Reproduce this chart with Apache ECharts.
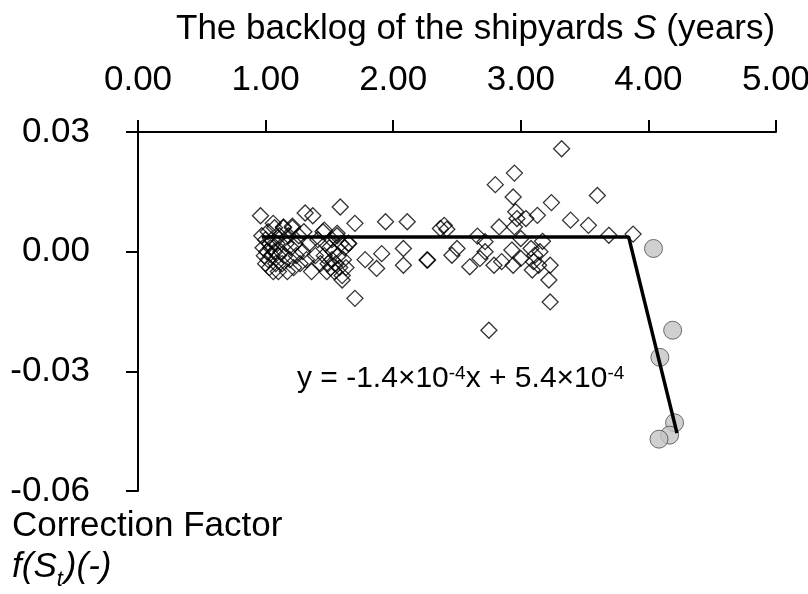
<!DOCTYPE html>
<html>
<head>
<meta charset="utf-8">
<script src="https://cdn.jsdelivr.net/npm/echarts@6/dist/echarts.min.js"></script>
<style>
  html, body { margin: 0; padding: 0; background: #fff; }
  #chart { width: 808px; height: 594px; }
</style>
</head>
<body>
<div id="chart"></div>
<script>
// Axis ticks
const xTicks = [0, 1, 2, 3, 4, 5];
const yTicks = [-0.06, -0.03, 0.0, 0.03];

// Observed correction factor vs. backlog (normal regime)
const normalPoints = [
  [0.96, 0.009], [0.97, 0.004], [0.98, 0.001], [0.99, -0.001], [1.00, 0.003], [1.00, -0.003],
  [1.01, 0.000], [1.02, 0.005], [1.02, -0.002], [1.03, 0.002], [1.03, -0.004], [1.04, 0.001],
  [1.05, -0.001], [1.05, 0.003], [1.06, -0.005], [1.07, 0.000], [1.07, 0.006], [1.08, -0.003],
  [1.09, 0.002], [1.10, -0.001], [1.10, -0.005], [1.11, 0.004], [1.12, 0.000], [1.13, -0.003],
  [1.14, 0.006], [1.15, -0.001], [1.16, 0.002], [1.17, -0.005], [1.18, 0.004], [1.19, -0.002],
  [1.20, 0.001], [1.21, 0.006], [1.22, -0.004], [1.23, 0.002], [1.24, -0.001], [1.26, 0.004],
  [1.27, -0.003], [1.29, 0.000], [1.30, 0.005], [1.32, -0.002], [1.34, 0.002], [1.36, -0.005],
  [1.37, 0.009], [1.39, -0.001], [1.41, 0.003],
  [1.43, -0.003], [1.45, 0.005], [1.46, -0.001], [1.47, 0.002], [1.48, -0.005], [1.49, -0.003],
  [1.50, 0.001], [1.51, -0.004], [1.52, 0.003], [1.52, -0.002], [1.53, 0.000], [1.54, -0.005],
  [1.55, -0.003], [1.56, 0.004], [1.57, -0.001], [1.58, -0.004], [1.59, 0.002], [1.60, -0.006],
  [1.61, -0.002], [1.62, 0.001], [1.63, -0.004], [1.65, 0.002],
  [1.06, 0.0071], [1.14, 0.0062], [1.21, 0.0064], [1.31, 0.0097], [1.46, 0.0054], [1.56, 0.0046],
  [1.585, 0.0112], [1.65, 0.0021], [1.60, -0.0071], [1.70, 0.0071], [1.70, -0.0117], [1.78, -0.002],
  [1.87, -0.0042], [1.91, -0.0005], [1.94, 0.0075], [2.08, 0.0008], [2.08, -0.0034], [2.11, 0.0075],
  [2.265, -0.0021], [2.27, -0.0021], [2.37, 0.0058],
  [2.40, 0.0066], [2.42, 0.0056], [2.46, -0.0009], [2.50, 0.0008], [2.60, -0.0038], [2.66, 0.0039],
  [2.68, -0.0017], [2.72, 0.0025], [2.72, 0.0000], [2.75, -0.0197], [2.79, -0.0034], [2.80, 0.0168],
  [2.83, 0.0062], [2.85, -0.0025], [2.93, 0.0004], [2.94, 0.0137], [2.94, -0.0034], [2.95, 0.0197],
  [2.95, 0.0062], [2.96, 0.0100], [2.97, 0.0083], [3.00, 0.0033], [3.00, -0.0017], [3.04, 0.0083],
  [3.08, 0.0008], [3.09, -0.0046], [3.10, -0.0025], [3.11, -0.0009], [3.13, 0.0091], [3.14, -0.0034],
  [3.15, 0.0000], [3.17, 0.0026], [3.22, -0.0071], [3.23, -0.0034], [3.23, -0.0126], [3.24, 0.0123],
  [3.32, 0.0258], [3.39, 0.0079], [3.53, 0.0066], [3.60, 0.0141], [3.69, 0.0041], [3.88, 0.0044]
];

// Observed points in the high-backlog regime
const highPoints = [
  [4.04, 0.0008], [4.19, -0.0197], [4.09, -0.0265], [4.205, -0.0429], [4.166, -0.046], [4.083, -0.047]
];

// Piecewise fitted correction function
const fitLine = [[0.97, 0.0037], [3.845, 0.0037], [4.224, -0.0455]];

const FONT = "'Liberation Sans', Arial, sans-serif";
const FS = 35;

const chart = echarts.init(document.getElementById('chart'), null, { renderer: 'canvas' });

chart.setOption({
  animation: false,
  backgroundColor: '#ffffff',
  grid: {
    left: 138, top: 132, right: 32, bottom: 103,
    containLabel: false, outerBoundsMode: 'none'
  },
  xAxis: {
    type: 'value',
    position: 'top',
    min: xTicks[0],
    max: xTicks[xTicks.length - 1],
    interval: 1,
    axisLine: { onZero: false, lineStyle: { color: '#000', width: 2 } },
    axisTick: { show: true, inside: false, length: 12, lineStyle: { color: '#000', width: 2 } },
    axisLabel: {
      color: '#000', fontFamily: FONT, fontSize: FS, margin: 34,
      showMinLabel: true, showMaxLabel: true, hideOverlap: false,
      formatter: v => v.toFixed(2)
    },
    splitLine: { show: false }
  },
  yAxis: {
    type: 'value',
    min: yTicks[0],
    max: yTicks[yTicks.length - 1],
    interval: 0.03,
    axisLine: { onZero: false, lineStyle: { color: '#000', width: 2 } },
    axisTick: { show: true, inside: false, length: 12, lineStyle: { color: '#000', width: 2 } },
    axisLabel: {
      color: '#000', fontFamily: FONT, fontSize: FS, margin: 48,
      formatter: v => (Math.abs(v) < 1e-9 ? '0.00' : v.toFixed(2))
    },
    splitLine: { show: false }
  },
  series: [
    {
      type: 'scatter',
      data: normalPoints,
      symbol: 'diamond',
      symbolSize: 16,
      itemStyle: { color: 'rgba(255,255,255,0)', borderColor: '#000', borderWidth: 1.3 },
      z: 2
    },
    {
      type: 'scatter',
      data: highPoints,
      symbol: 'circle',
      symbolSize: 18,
      itemStyle: { color: '#c4c4c4', borderColor: '#4a4a4a', borderWidth: 1 },
      z: 3
    },
    {
      type: 'line',
      data: fitLine,
      showSymbol: false,
      symbol: 'none',
      lineStyle: { color: '#000', width: 3.5 },
      z: 4
    }
  ],
  graphic: [
    {
      type: 'text',
      left: 176,
      top: 12,
      style: {
        text: '{a|The backlog of the shipyards }{i|S}{a| (years)}',
        rich: {
          a: { fontFamily: FONT, fontSize: FS, fill: '#000' },
          i: { fontFamily: FONT, fontSize: FS, fontStyle: 'italic', fill: '#000' }
        }
      }
    },
    {
      type: 'text',
      left: 12,
      top: 509,
      style: { text: 'Correction Factor', fontFamily: FONT, fontSize: FS, fill: '#000' }
    },
    {
      type: 'text',
      left: 12,
      top: 550,
      style: {
        text: '{i|f(S}{sub|t}{i|)(-)}',
        rich: {
          i: { fontFamily: FONT, fontSize: FS, fontStyle: 'italic', fill: '#000', verticalAlign: 'bottom' },
          sub: { fontFamily: FONT, fontSize: 22, fontStyle: 'italic', fill: '#000', verticalAlign: 'bottom', padding: [0, 2, -6, 0] }
        }
      }
    },
    {
      type: 'text',
      left: 297,
      top: 364,
      style: {
        text: '{m|y = -1.4×10}{s|-4}{m|x + 5.4×10}{s|-4}',
        rich: {
          m: { fontFamily: FONT, fontSize: 30, fill: '#000', verticalAlign: 'bottom' },
          s: { fontFamily: FONT, fontSize: 19, fill: '#000', verticalAlign: 'top', padding: [0, 0, 10, 0] }
        }
      }
    }
  ]
});
</script>
</body>
</html>
